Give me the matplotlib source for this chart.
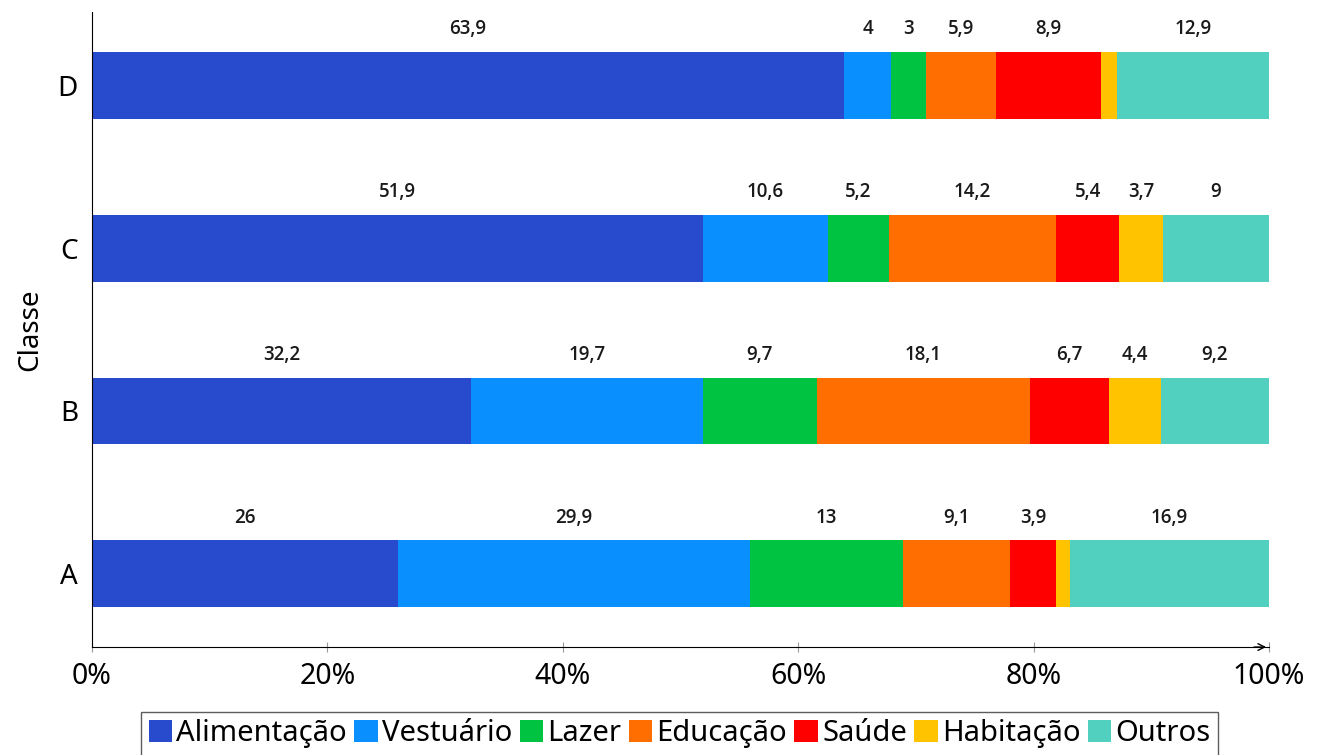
import numpy as np
import matplotlib.pyplot as plt

plt.rcParams['font.family'] = ['Noto Sans', 'DejaVu Sans']

# Data (percent of spending by class)
classes = ['A', 'B', 'C', 'D']
categories = ['Alimentação', 'Vestuário', 'Lazer', 'Educação', 'Saúde', 'Habitação', 'Outros']
alimentacao = [26, 32.2, 51.9, 63.9]
vestuario = [29.9, 19.7, 10.6, 4]
lazer = [13, 9.7, 5.2, 3]
educacao = [9.1, 18.1, 14.2, 5.9]
saude = [3.9, 6.7, 5.4, 8.9]
habitacao = [1.2, 4.4, 3.7, 1.4]
outros = [16.9, 9.2, 9, 12.9]

colors = ['#284acc', '#0a8ffe', '#00c441', '#ff6e00', '#ff0000', '#ffc300', '#52d0bf']

series = [alimentacao, vestuario, lazer, educacao, saude, habitacao, outros]

fig = plt.figure(figsize=(13.25, 7.55), dpi=100)
ax = fig.add_axes([0.0694, 0.143, 0.8883, 0.841])

y = np.arange(len(classes))
left = np.zeros(len(classes))
for vals, name, c in zip(series, categories, colors):
    vals = np.array(vals, dtype=float)
    ax.barh(y, vals, left=left, height=0.41, color=c, label=name)
    for yi, (l, v) in enumerate(zip(left, vals)):
        if v >= 2:  # tiny slices get no label
            txt = ('%g' % v).replace('.', ',')
            ax.text(l + v / 2, yi + 0.345, txt, ha='center', va='center',
                    fontsize=13.5, fontweight=600, family=['Open Sans', 'Noto Sans'],
                    color='#1a1a1a')
    left += vals

ax.set_xlim(0, 100)
ax.set_ylim(-0.45, 3.45)
ax.set_yticks(y)
ax.set_yticklabels(classes, fontsize=20)
ax.tick_params(axis='y', length=0, pad=10)
ax.set_xticks([0, 20, 40, 60, 80, 100])
ax.set_xticklabels(['0%', '20%', '40%', '60%', '80%', '100%'], fontsize=20.5)
ax.tick_params(axis='x', direction='inout', length=7, color='#999999', pad=7)
ax.set_ylabel('Classe', fontsize=20, labelpad=10)

ax.spines['top'].set_visible(False)
ax.spines['right'].set_visible(False)

# arrow at the end of x axis
ax.annotate('', xy=(1.0, 0), xytext=(0.985, 0), xycoords='axes fraction',
            arrowprops=dict(arrowstyle='->', color='black', lw=1,
                            mutation_scale=12))

fig.legend(loc='upper center', bbox_to_anchor=(0.513, 0.057), ncol=7,
           fontsize=21, frameon=True, fancybox=False, edgecolor='#333333',
           handlelength=0.8, handleheight=0.8, handletextpad=0.15,
           columnspacing=0.25, borderpad=0.25, borderaxespad=0)

fig.savefig('out.png', dpi=100)
